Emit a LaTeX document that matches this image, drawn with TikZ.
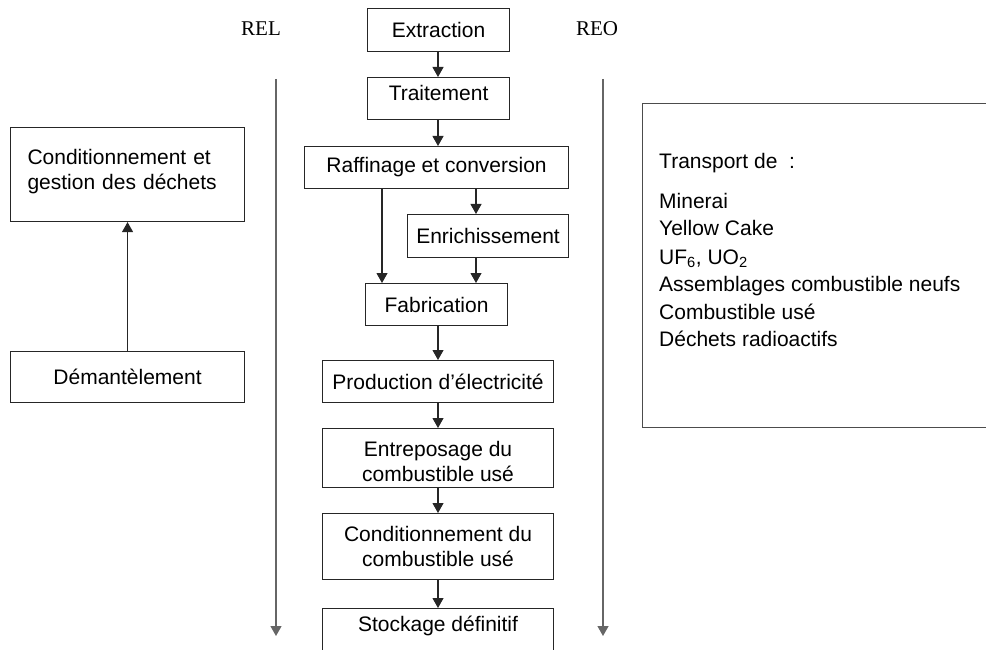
\documentclass[tikz,border=0pt]{standalone}
\usepackage{fontspec}
\setmainfont{Liberation Sans}
\newfontfamily\romanfont{Liberation Serif}
\usetikzlibrary{arrows.meta}
\begin{document}
\begin{tikzpicture}[x=1pt,y=-1pt,
  font=\fontsize{21}{25}\selectfont,
  stepbox/.style={draw=black!85, line width=1.1pt, inner sep=0pt,
    anchor=north west, align=center},
  flow/.style={draw=black!85, line width=1.1pt,
    -{Triangle[width=11pt,length=10pt]}},
  axisline/.style={draw=black!60, line width=1.3pt,
    -{Triangle[width=11pt,length=10pt]}},
  listline/.style={anchor=base west, inner sep=0pt},
  reactor/.style={font=\romanfont\fontsize{21}{25}\selectfont},
]
\clip (0,0) rectangle (986,650);

% main fuel-cycle chain
\node[stepbox, minimum width=142pt, minimum height=43pt] (extr) at (367,8) {Extraction};
\node[stepbox, minimum width=142pt, minimum height=42pt, text depth=11pt] (trait) at (367,77) {Traitement};
\node[stepbox, minimum width=264pt, minimum height=42pt] (raf) at (304,146) {Raffinage et conversion};
\node[stepbox, minimum width=161pt, minimum height=43pt] (enr) at (407,214) {Enrichissement};
\node[stepbox, minimum width=142pt, minimum height=42pt] (fab) at (365,283) {Fabrication};
\node[stepbox, minimum width=231pt, minimum height=42pt] (prod) at (322,360) {Production d’électricité};
\node[stepbox, minimum width=231pt, minimum height=59pt, text height=48pt] (entr) at (322,428) {Entreposage du\\combustible usé};
\node[stepbox, minimum width=231pt, minimum height=66pt] (cond) at (322,513) {Conditionnement du\\combustible usé};
\node[stepbox, minimum width=231pt, minimum height=60pt, text depth=30pt] (stock) at (322,608) {Stockage définitif};

% arrow columns
\coordinate (colL) at (382,0);
\coordinate (colM) at (438,0);
\coordinate (colR) at (476,0);

\draw[flow] (extr.south -| colM) -- (trait.north -| colM);
\draw[flow] (trait.south -| colM) -- (raf.north -| colM);
\draw[flow] (raf.south -| colL) -- (fab.north -| colL);
\draw[flow] (raf.south -| colR) -- (enr.north -| colR);
\draw[flow] (enr.south -| colR) -- (fab.north -| colR);
\draw[flow] (fab.south -| colM) -- (prod.north -| colM);
\draw[flow] (prod.south -| colM) -- (entr.north -| colM);
\draw[flow] (entr.south -| colM) -- (cond.north -| colM);
\draw[flow] (cond.south -| colM) -- (stock.north -| colM);

% reactor types and their time axes
\node[reactor] (rel) at (261,29) {REL};
\node[reactor] (reo) at (597,29) {REO};
\coordinate (relTop) at (276,79);
\coordinate (relBot) at (276,636);
\coordinate (reoTop) at (603,79);
\coordinate (reoBot) at (603,636);
\draw[axisline] (relTop) -- (relBot);
\draw[axisline] (reoTop) -- (reoBot);

% dismantling branch
\node[stepbox, minimum width=234pt, minimum height=94pt, text width=200pt,
  inner xsep=17pt, align=left, text depth=35pt] (waste) at (10,127)
  {Conditionnement et\\gestion des déchets};
\node[stepbox, minimum width=234pt, minimum height=51pt] (dem) at (10,351) {Démantèlement};
\draw[flow] (dem) -- (waste);

% transport list
\node[draw=black!70, line width=1.1pt, inner sep=0pt, anchor=north west,
  minimum width=350pt, minimum height=324pt] (transp) at (642,103) {};
\node[listline] (t0) at (659,168) {Transport de~~:};
\node[listline] (t1) at (659,208) {Minerai};
\node[listline] (t2) at (659,236) {Yellow Cake};
\node[listline] (t3) at (659,264) {UF\textsubscript{6}, UO\textsubscript{2}};
\node[listline] (t4) at (659,291) {Assemblages combustible neufs};
\node[listline] (t5) at (659,319) {Combustible usé};
\node[listline] (t6) at (659,346) {Déchets radioactifs};
\end{tikzpicture}
\end{document}
